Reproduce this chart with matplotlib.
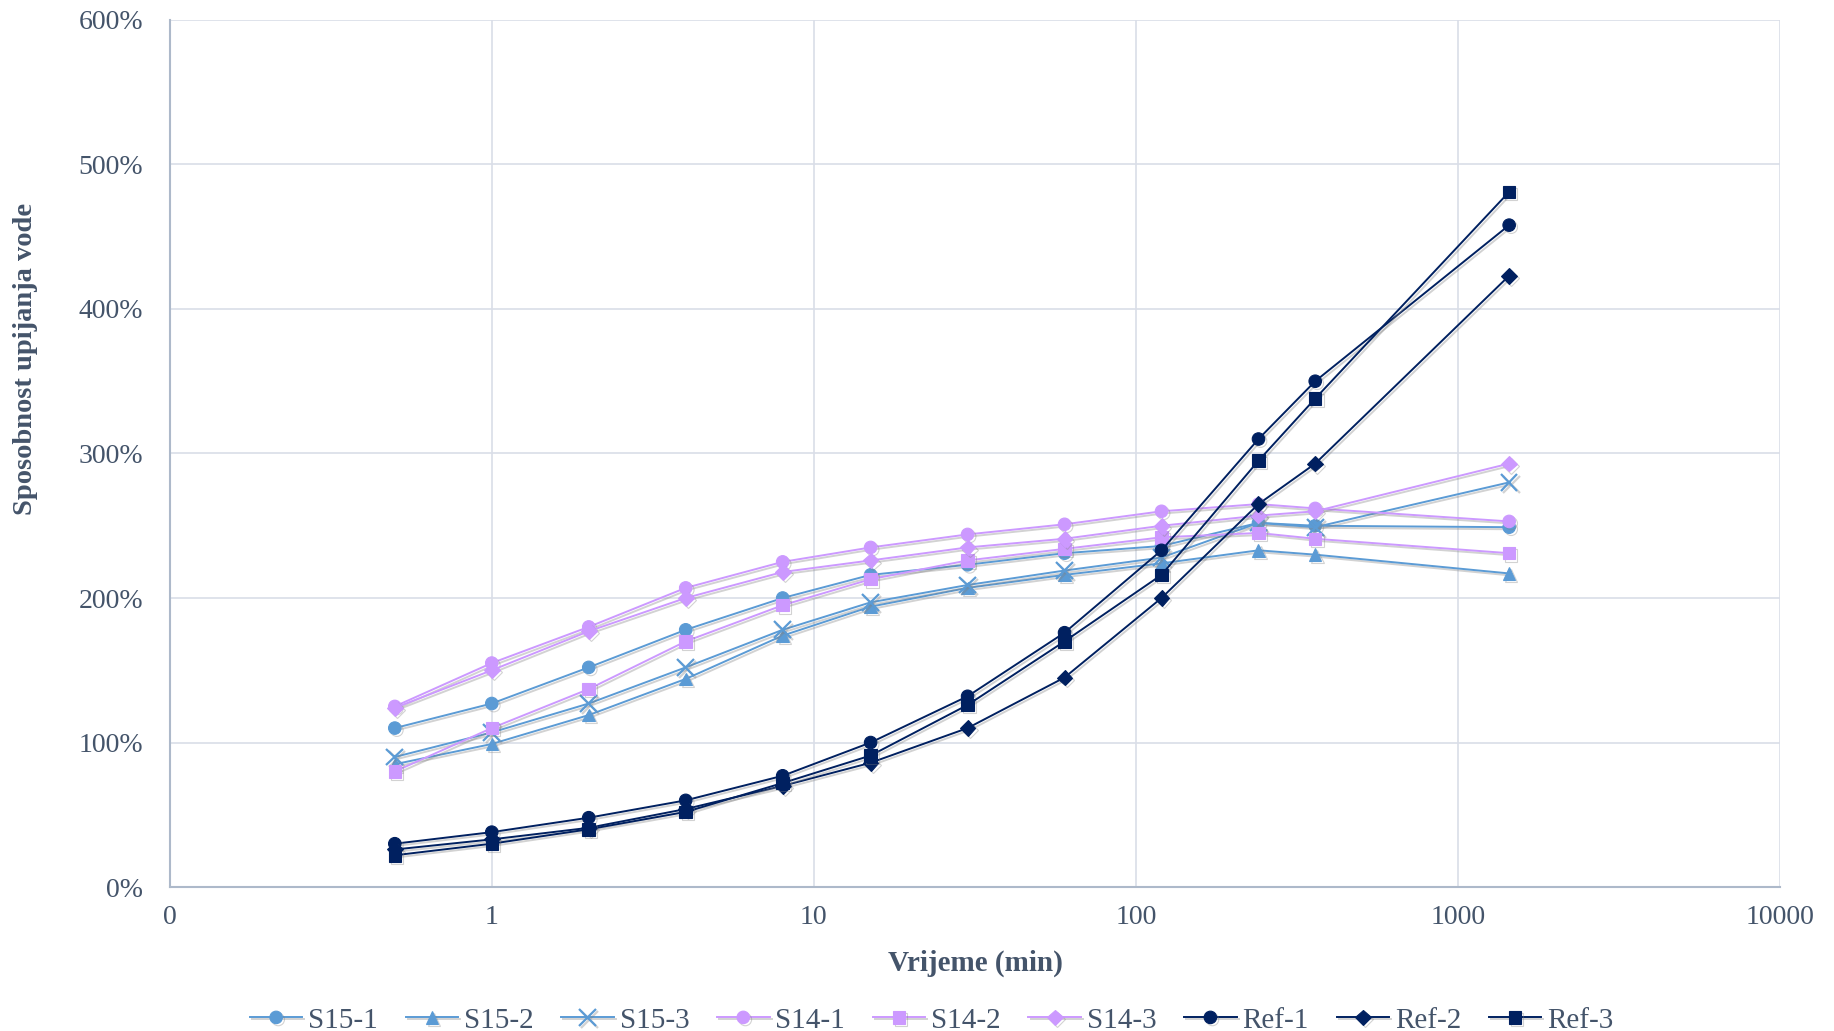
import matplotlib
matplotlib.use("Agg")
import matplotlib.pyplot as plt
import matplotlib.patheffects as pe
from matplotlib.ticker import FixedLocator, FixedFormatter, NullLocator, PercentFormatter

# time points (min)
vrijeme = [0.5, 1, 2, 4, 8, 15, 30, 60, 120, 240, 360, 1440]

# water absorption (%)
s15_1 = [110, 127, 152, 178, 200, 216, 223, 231, 236, 252, 250, 249]
s15_2 = [85, 99, 119, 144, 174, 194, 207, 216, 224, 233, 230, 217]
s15_3 = [90, 107, 127, 152, 178, 197, 209, 219, 228, 252, 249, 280]
s14_1 = [125, 155, 180, 207, 225, 235, 244, 251, 260, 265, 262, 253]
s14_2 = [80, 110, 137, 170, 195, 213, 226, 234, 242, 245, 241, 231]
s14_3 = [124, 150, 177, 200, 218, 226, 235, 241, 250, 257, 260, 293]
ref_1 = [30, 38, 48, 60, 77, 100, 132, 176, 233, 310, 350, 458]
ref_2 = [26, 33, 41, 54, 70, 86, 110, 145, 200, 265, 293, 423]
ref_3 = [22, 30, 40, 52, 72, 91, 126, 170, 216, 295, 338, 481]

serije = ["S15-1", "S15-2", "S15-3", "S14-1", "S14-2", "S14-3", "Ref-1", "Ref-2", "Ref-3"]
vrijednosti = [s15_1, s15_2, s15_3, s14_1, s14_2, s14_3, ref_1, ref_2, ref_3]

x_ticks = [0.1, 1, 10, 100, 1000, 10000]
x_labels = ["0", "1", "10", "100", "1000", "10000"]

plava = "#5B9BD5"
ljubicasta = "#CC99FF"
tamna = "#002060"
tekst = "#44546A"
stilovi = [
    (plava, "o"), (plava, "^"), (plava, "x"),
    (ljubicasta, "o"), (ljubicasta, "s"), (ljubicasta, "D"),
    (tamna, "o"), (tamna, "D"), (tamna, "s"),
]

plt.rcParams["font.family"] = ["Liberation Serif", "DejaVu Serif"]

fig = plt.figure(figsize=(18.34, 10.31), dpi=100)
ax = fig.add_axes([0.0925, 0.1396, 0.8782, 0.8411])

sjena = [pe.SimpleLineShadow(offset=(1.5, -1.5), shadow_color="gray", alpha=0.35), pe.Normal()]
for ime, y, (boja, mk) in zip(serije, vrijednosti, stilovi):
    ms = 9 if mk in ("o", "s", "^") else 8
    if mk == "x":
        ms = 12
    ax.plot(vrijeme, y, color=boja, marker=mk, markersize=ms, linewidth=1.4,
            markeredgewidth=1.6 if mk == "x" else 0.8, label=ime, path_effects=sjena)

ax.set_xscale("log")
ax.set_xlim(0.1, 10000)
ax.set_ylim(0, 600)
ax.xaxis.set_major_locator(FixedLocator(x_ticks))
ax.xaxis.set_major_formatter(FixedFormatter(x_labels))
ax.xaxis.set_minor_locator(NullLocator())
ax.set_yticks(range(0, 601, 100))
ax.yaxis.set_major_formatter(PercentFormatter(decimals=0))

ax.grid(True, color="#D9DEE8", linewidth=1.2)
ax.set_axisbelow(True)
for s in ["top", "right"]:
    ax.spines[s].set_visible(False)
for s in ["left", "bottom"]:
    ax.spines[s].set_color("#ADB9CA")
    ax.spines[s].set_linewidth(1.5)
ax.tick_params(length=0, labelsize=20, colors=tekst)
ax.tick_params(axis="y", pad=19)
ax.tick_params(axis="x", pad=13)

ax.set_xlabel("Vrijeme (min)", fontsize=21, fontweight="bold", color=tekst, labelpad=14)
ax.set_ylabel("Sposobnost upijanja vode", fontsize=20.5, fontweight="bold", color=tekst)
ax.yaxis.set_label_coords(-0.082, 0.609)

fig.legend(loc="lower center", bbox_to_anchor=(0.508, -0.028), ncol=9, frameon=False,
           fontsize=21, labelcolor=tekst, handlelength=1.8, columnspacing=0.95, handletextpad=0.2)

fig.savefig("out.png", dpi=100)
